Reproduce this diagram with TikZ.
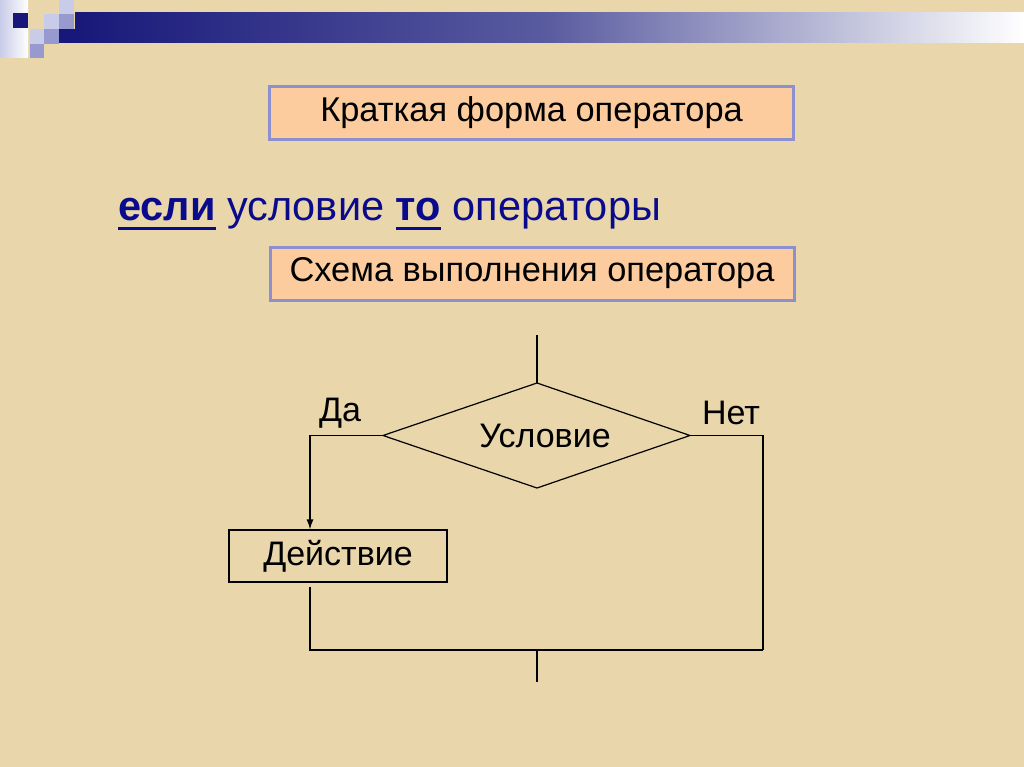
\documentclass[tikz,border=0pt]{standalone}
\usepackage{fontspec}
\setmainfont{Liberation Sans}
\usetikzlibrary{arrows.meta}
\definecolor{bg}{RGB}{233,215,171}
\definecolor{peach}{RGB}{252,204,158}
\definecolor{lav}{RGB}{140,144,206}
\definecolor{navyc}{RGB}{24,24,122}
\definecolor{navytext}{RGB}{10,10,140}
\definecolor{sqlight}{RGB}{200,204,232}
\definecolor{sqmid}{RGB}{150,154,206}
\newcommand\myul[1]{\setbox0\hbox{#1}\rlap{\raisebox{-9.5pt}{\rule{\wd0}{3pt}}}\box0\relax}
\tikzset{
  titlebox/.style={draw=lav, line width=3pt, fill=peach, minimum width=524pt, minimum height=53pt, inner sep=0pt, font=\fontsize{34.4}{40}\selectfont},
  flow/.style={line width=1.2pt, draw=black},
  flowtext/.style={font=\fontsize{34}{40}\selectfont, inner sep=0pt},
  arr/.style={-{Latex[length=10pt,width=7pt]}}
}
\begin{document}
\begin{tikzpicture}[x=1pt,y=-1pt]
\useasboundingbox (0,0) rectangle (1024,767);
\fill[bg] (0,0) rectangle (1024,767);
% decoration top-left
\shade[left color=sqlight, right color=white] (0,0) rectangle (28,58);
\fill[navyc] (13,13) rectangle (28,28);
\fill[sqlight] (30,29) rectangle (44,44);
\fill[sqmid] (30,44) rectangle (44,58);
\fill[sqlight] (44,14) rectangle (59,29);
\fill[sqmid] (44,29) rectangle (59,44);
\fill[sqlight] (59,0) rectangle (74,14);
\fill[sqmid] (59,14) rectangle (74,29);
\fill[navyc] (59,29) rectangle (75,43);
\shade[left color=navyc, right color=white, middle color={rgb,255:red,90;green,92;blue,160}] (75,13) rectangle (1024,43);
% title boxes
\node[titlebox] (t1) at (531.5,113) {Краткая форма оператора};
\node[font=\fontsize{41.5}{48}\selectfont, text=navytext, anchor=base west, inner sep=0pt] (syn) at (118,221)
  {\myul{\textbf{если}} условие \myul{\textbf{то}} операторы};
\node[titlebox] (t2) at (532,273.5) {Схема выполнения оператора};
% flowchart
\coordinate (ct) at (537,383);
\coordinate (cl) at (383,435.5);
\coordinate (cr) at (690,435.5);
\coordinate (cb) at (537,488);
\draw[flow] (ct) -- (cr) -- (cb) -- (cl) -- cycle;
\node[flowtext] (cond) at (545,435.5) {Условие};
\node[flow, rectangle, minimum width=218pt, minimum height=52pt, inner sep=0pt, font=\fontsize{34}{40}\selectfont] (act) at (338,556) {Действие};
\node[flowtext] (da) at (340,413) {Да};
\node[flowtext] (net) at (731,413) {Нет};
\coordinate (in) at (537,335);
\coordinate (yl) at (310,435.5);
\coordinate (nr) at (763,435.5);
\coordinate (bl) at (310,650);
\coordinate (br) at (763,650);
\coordinate (bm) at (537,650);
\coordinate (out) at (537,682);
\draw[flow] (in) -- (ct);
\draw[flow, arr] (cl) -- (yl) -- (yl |- act.north);
\draw[flow] (cr) -- (nr) -- (br);
\draw[flow] ([yshift=-4pt]act.south -| yl) -- (bl) -- (br);
\draw[flow] (bm) -- (out);
\end{tikzpicture}
\end{document}
